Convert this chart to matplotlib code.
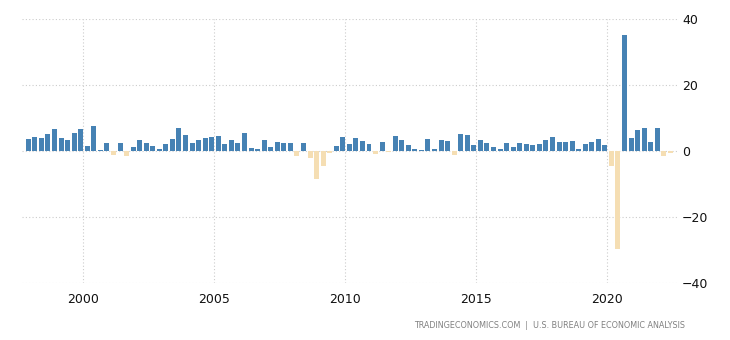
import numpy as np
import matplotlib
matplotlib.use("Agg")
import matplotlib.pyplot as plt

# quarterly GDP growth, annualized, 1997 Q4 .. 2022 Q2
start_year = 1997
start_quarter = 4
growth = [
    3.6,
    4.2, 3.9, 5.2, 6.7,
    3.9, 3.3, 5.5, 6.7,
    1.5, 7.6, 0.3, 2.4,
    -1.2, 2.4, -1.5, 1.2,
    3.3, 2.4, 1.5, 0.6,
    2.1, 3.6, 7.0, 4.8,
    2.4, 3.3, 3.9, 4.2,
    4.5, 2.1, 3.3, 2.4,
    5.5, 0.9, 0.6, 3.3,
    1.2, 2.7, 2.4, 2.4,
    -1.5, 2.4, -2.1, -8.5,
    -4.5, -0.6, 1.5, 4.2,
    2.1, 3.9, 3.0, 2.1,
    -0.9, 2.7, -0.3, 4.5,
    3.3, 1.8, 0.6, 0.3,
    3.6, 0.6, 3.3, 3.0,
    -1.2, 5.2, 4.8, 1.8,
    3.3, 2.4, 1.2, 0.6,
    2.4, 1.2, 2.4, 2.1,
    1.8, 2.1, 3.3, 4.2,
    2.7, 2.7, 3.0, 0.6,
    2.1, 2.7, 3.6, 1.8,
    -4.4, -29.7, 35.2, 3.9,
    6.4, 7.0, 2.7, 7.0,
    -1.4, -0.6,
]
year_ticks = [2000, 2005, 2010, 2015, 2020]
y_ticks = [-40, -20, 0, 20, 40]

pos_color = "#4682b4"
neg_color = "#f5deb3"

idx = np.arange(len(growth)) + (start_quarter - 1)
x = start_year + idx * 0.25 + 0.16
vals = np.array(growth)
colors = [pos_color if v >= 0 else neg_color for v in vals]

fig = plt.figure(figsize=(7.3, 3.4), dpi=100)
ax = fig.add_axes([22 / 730, 1 - 283.3 / 340, 656 / 730, 264.3 / 340])

ax.bar(x, vals, width=0.19, color=colors, zorder=2)

ax.set_xlim(1997.67, 2022.70)
ax.set_ylim(-40, 40)
ax.set_xticks(year_ticks)
ax.set_yticks(y_ticks)
ax.grid(True, color="#cccccc", linestyle=(0, (1, 2)), linewidth=0.8, zorder=0)
for s in ax.spines.values():
    s.set_visible(False)
ax.yaxis.tick_right()
ax.tick_params(length=0, labelsize=9, colors="#111111")
ax.tick_params(axis="x", pad=7)
ax.tick_params(axis="y", pad=3)

fig.text(685 / 730, 1 - 325 / 340, "TRADINGECONOMICS.COM  |  U.S. BUREAU OF ECONOMIC ANALYSIS",
         ha="right", va="center", fontsize=5.8, color="#808080")

fig.savefig("out.png", dpi=100)
